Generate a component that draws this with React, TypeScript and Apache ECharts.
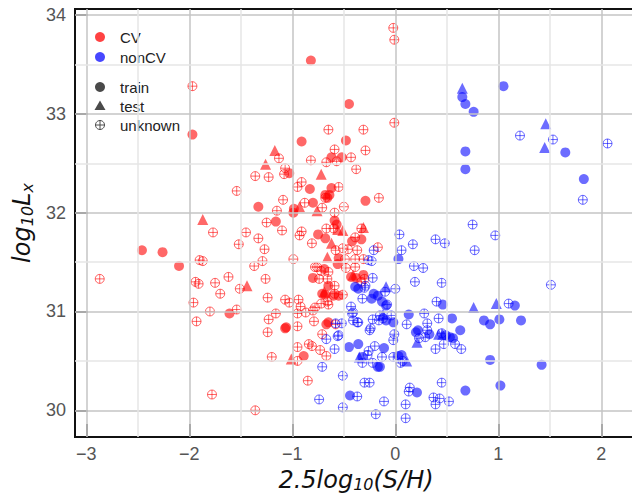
import React, { useEffect, useRef } from 'react';
import * as echarts from 'echarts';

// ---- data (x = 2.5 log10(S/H), y = log10 Lx) ----
const cvTrain: number[][] = [
  [-0.82, 33.54], [-1.97, 32.79], [-0.91, 32.72], [-0.45, 33.10], [-0.48, 32.73],
  [-0.62, 32.56], [-0.52, 32.56], [-0.83, 32.24], [-0.62, 32.25], [-0.68, 32.18],
  [-0.64, 32.18], [-0.66, 32.15], [-0.80, 32.10], [-0.29, 32.12], [-1.03, 32.40],
  [-0.985, 32.04], [-0.99, 32.00], [-1.33, 32.06], [-1.16, 31.91], [-0.75, 31.78],
  [-0.68, 31.74], [-0.59, 31.92], [-0.57, 31.88], [-0.42, 31.71], [-0.33, 31.73],
  [-2.46, 31.62], [-2.26, 31.60], [-2.10, 31.46], [-1.61, 30.98], [-1.07, 30.83],
  [-1.06, 30.84], [-0.89, 30.55], [-0.80, 31.34], [-0.55, 31.54], [-0.56, 31.48],
  [-0.69, 31.43], [-0.43, 31.35], [-0.38, 31.34], [-0.31, 31.37], [-0.65, 31.26],
  [-0.71, 31.18], [-0.68, 31.17], [-0.60, 31.16], [-0.55, 31.16], [-0.67, 30.87],
  [-0.65, 30.89],
];
const cvTest: number[][] = [
  [-1.17, 32.63], [-1.26, 32.49], [-1.87, 31.93], [-0.93, 32.06], [-0.76, 32.02],
  [-0.72, 32.39], [-0.51, 31.82], [-0.56, 31.83], [-0.31, 31.85], [-0.62, 31.69],
  [-1.44, 31.26], [-1.01, 30.52], [-0.66, 31.55], [-0.41, 31.37], [-0.69, 31.20],
];
const cvUnknown: number[][] = [
  [-0.02, 33.87], [-0.01, 33.75], [-0.01, 32.91], [-1.97, 33.28], [-0.65, 32.84],
  [-0.31, 32.84], [-0.59, 32.64], [-0.29, 32.63], [-0.43, 32.56], [-0.82, 32.53],
  [-0.67, 32.51], [-0.57, 32.52], [-0.38, 32.44], [-0.55, 32.26], [-0.16, 32.15],
  [-0.50, 32.06], [-0.71, 32.05], [-0.59, 32.00], [-0.67, 31.84], [-0.60, 31.84],
  [-0.33, 31.84], [-0.39, 31.75], [-0.17, 31.65], [-0.51, 31.64], [-0.46, 31.63],
  [-0.37, 31.62], [-1.13, 32.55], [-1.07, 32.45], [-1.08, 32.39], [-1.36, 32.37],
  [-1.23, 32.36], [-0.91, 32.31], [-0.95, 32.26], [-1.54, 32.22], [-1.09, 32.13],
  [-0.88, 32.10], [-1.15, 32.02], [-1.25, 31.90], [-1.10, 31.82], [-0.91, 31.81],
  [-0.93, 31.77], [-1.77, 31.80], [-1.45, 31.80], [-1.33, 31.74], [-1.52, 31.68],
  [-0.81, 31.69], [-1.27, 31.63], [-1.90, 31.52], [-1.87, 31.51], [-1.37, 31.46],
  [-1.29, 31.51], [-1.94, 31.30], [-1.91, 31.28], [-1.75, 31.29], [-1.62, 31.35],
  [-1.26, 31.33], [-1.70, 31.18], [-1.51, 31.23], [-1.24, 31.14], [-1.96, 31.09],
  [-1.07, 31.12], [-1.03, 31.09], [-1.80, 31.00], [-1.54, 31.02], [-1.16, 30.98],
  [-1.93, 30.90], [-1.23, 30.92], [-1.24, 30.79], [-2.87, 31.33], [-1.20, 30.54],
  [-1.78, 30.16], [-1.36, 30.00], [-0.99, 31.53], [-0.94, 31.12], [-0.92, 31.05],
  [-0.95, 30.98], [-0.95, 30.85], [-0.95, 30.64], [-0.95, 30.50], [-0.85, 30.30],
  [-0.80, 31.01], [-0.79, 30.90], [-0.84, 30.67], [-0.81, 30.65], [-0.78, 31.45],
  [-0.76, 31.45], [-0.78, 31.04], [-0.73, 30.61], [-0.58, 31.62], [-0.49, 31.53],
  [-0.39, 31.53], [-0.31, 31.53], [-0.48, 31.44], [-0.39, 31.45], [-0.72, 31.41],
  [-0.65, 31.40], [-0.74, 31.33], [-0.66, 31.33], [-0.30, 31.33], [-0.33, 31.30],
  [-0.59, 31.26], [-0.59, 31.18], [-0.51, 31.17], [-0.66, 31.10], [-0.72, 31.08],
  [-0.65, 31.07], [-0.87, 30.99], [-0.58, 30.87], [-0.71, 30.77], [-0.67, 30.55],
  [-0.68, 32.15],
];
const nonCvTrain: number[][] = [
  [1.05, 33.28], [0.65, 33.17], [0.68, 33.10], [0.76, 33.02], [0.68, 32.62],
  [0.68, 32.44], [1.65, 32.61], [1.83, 32.34], [0.03, 31.53], [-0.39, 31.25],
  [-0.36, 31.23], [-0.21, 31.18], [-0.17, 31.16], [-0.23, 31.13], [-0.13, 31.10],
  [-0.09, 31.06], [-0.09, 30.91], [-0.02, 30.89], [-0.45, 30.64], [-0.36, 30.67],
  [-0.32, 30.54], [-0.11, 30.63], [-0.17, 30.44], [-0.15, 30.44], [-0.44, 30.15],
  [0.03, 30.55], [0.06, 30.56], [0.13, 30.97], [0.20, 30.79], [0.22, 30.81],
  [0.33, 30.77], [0.46, 31.07], [0.55, 30.93], [0.49, 30.76], [0.53, 30.74],
  [0.56, 30.73], [0.63, 30.81], [0.86, 30.91], [0.92, 30.87], [1.01, 30.92],
  [1.22, 30.91], [1.16, 31.06], [0.92, 30.51], [1.42, 30.46], [1.02, 30.25],
  [0.68, 30.20], [0.21, 30.18],
];
const nonCvTest: number[][] = [
  [0.65, 33.26], [1.46, 32.90], [1.45, 32.66], [-0.09, 31.25], [-0.12, 30.97],
  [-0.35, 30.54], [0.11, 30.50], [0.21, 30.69], [0.42, 30.77], [0.46, 30.77],
  [0.76, 31.04], [0.98, 31.08],
];
const nonCvUnknown: number[][] = [
  [1.21, 32.78], [1.53, 32.74], [2.06, 32.70], [1.82, 32.13], [0.75, 31.88],
  [0.97, 31.77], [0.04, 31.78], [0.17, 31.68], [0.39, 31.73], [0.48, 31.69],
  [-0.21, 31.62], [0.06, 31.62], [0.77, 31.62], [-0.26, 31.52], [-0.23, 31.51],
  [-0.22, 31.34], [-0.29, 31.26], [-0.30, 31.24], [0.00, 31.23], [-0.32, 31.13],
  [-0.10, 31.20], [-0.43, 31.05], [-0.41, 30.99], [-0.58, 30.88], [-0.52, 30.88],
  [-0.37, 30.89], [-0.22, 30.92], [-0.16, 30.91], [-0.04, 30.96], [-0.55, 30.76],
  [-0.24, 30.83], [-0.67, 30.72], [-0.56, 30.75], [-0.25, 30.81], [-0.01, 30.77],
  [-0.02, 30.71], [-0.59, 30.62], [-0.26, 30.60], [-0.20, 30.65], [-0.27, 30.56],
  [-0.32, 30.48], [-0.22, 30.48], [-0.13, 30.54], [-0.02, 30.54], [-0.71, 30.44],
  [-0.51, 30.35], [-0.30, 30.28], [-0.25, 30.28], [-0.37, 30.14], [-0.74, 30.11],
  [-0.11, 30.09], [-0.51, 30.03], [-0.19, 29.96], [0.18, 31.46], [0.27, 31.44],
  [0.19, 31.30], [0.45, 31.29], [1.51, 31.27], [-0.08, 31.07], [-0.42, 30.98],
  [-0.41, 30.91], [-0.36, 30.89], [0.07, 30.50], [0.05, 30.48], [0.11, 30.87],
  [0.23, 30.73], [0.29, 30.74], [0.31, 30.81], [0.28, 30.98], [0.31, 30.88],
  [0.42, 30.93], [0.39, 30.62], [0.40, 31.10], [0.45, 30.78], [0.47, 30.67],
  [0.58, 30.67], [0.64, 30.62], [1.10, 31.08], [0.14, 30.23], [0.13, 30.19],
  [0.45, 30.28], [0.37, 30.13], [0.43, 30.12], [0.39, 30.06], [0.52, 30.09],
  [0.10, 30.06], [0.10, 29.92], [-0.15, 30.96], [-0.12, 30.93],
];

const xTicks = [-3, -2, -1, 0, 1, 2];
const yTicks = [30, 31, 32, 33, 34];
const xMinor = [-2.5, -1.5, -0.5, 0.5, 1.5];
const yMinor = [30.5, 31.5, 32.5, 33.5];
const colorLabels = ['CV', 'nonCV'];
const typeLabels = ['train', 'test', 'unknown'];

const RED = 'rgba(255,0,0,0.74)';
const BLUE = 'rgba(0,0,255,0.72)';
const LEG_GRAY = '#4a4a4a';
const OPLUS = 'path://M0,-10A10,10,0,1,1,0,10A10,10,0,1,1,0,-10ZM-10,0L10,0M0,-10L0,10';
const FONT = 'Liberation Sans';
const MATH = 'DejaVu Sans';

const fmt = (v: number) => (v < 0 ? '\u2212' + Math.abs(v) : String(v));

function pointSeries(name: string, data: number[][], kind: string, color: string) {
  const base: any = {
    type: 'scatter',
    name,
    data,
    z: 3,
    silent: true,
    emphasis: { disabled: true },
  };
  if (kind === 'train') {
    return { ...base, symbol: 'circle', symbolSize: 10, itemStyle: { color, borderWidth: 0 } };
  }
  if (kind === 'test') {
    return { ...base, symbol: 'triangle', symbolSize: 11, itemStyle: { color, borderWidth: 0 } };
  }
  return {
    ...base,
    symbol: OPLUS,
    symbolSize: 9,
    itemStyle: { color: 'rgba(0,0,0,0)', borderColor: color, borderWidth: 1 },
  };
}

function legendGraphics() {
  const g: any[] = [];
  const lx = 100;
  const tx = 120;
  const colorY = [37, 57];
  const colors = [RED, BLUE];
  colorLabels.forEach((t, i) => {
    g.push({ type: 'circle', shape: { cx: lx, cy: colorY[i], r: 5 }, style: { fill: colors[i] } });
    g.push({
      type: 'text', x: tx, y: colorY[i],
      style: { text: t, fontSize: 15, fontFamily: FONT, fill: '#222', verticalAlign: 'middle' },
    });
  });
  const typeY = [87, 106, 125];
  g.push({ type: 'circle', shape: { cx: lx, cy: typeY[0], r: 5 }, style: { fill: LEG_GRAY } });
  g.push({
    type: 'polygon',
    shape: { points: [[lx, typeY[1] - 5.5], [lx + 5.5, typeY[1] + 4], [lx - 5.5, typeY[1] + 4]] },
    style: { fill: LEG_GRAY },
  });
  g.push({ type: 'circle', shape: { cx: lx, cy: typeY[2], r: 4.5 }, style: { fill: 'none', stroke: LEG_GRAY, lineWidth: 1 } });
  g.push({ type: 'line', shape: { x1: lx - 4.5, y1: typeY[2], x2: lx + 4.5, y2: typeY[2] }, style: { stroke: LEG_GRAY, lineWidth: 1 } });
  g.push({ type: 'line', shape: { x1: lx, y1: typeY[2] - 4.5, x2: lx, y2: typeY[2] + 4.5 }, style: { stroke: LEG_GRAY, lineWidth: 1 } });
  typeLabels.forEach((t, i) => {
    g.push({
      type: 'text', x: tx, y: typeY[i],
      style: { text: t, fontSize: 15, fontFamily: FONT, fill: '#222', verticalAlign: 'middle' },
    });
  });
  return g;
}

const mathRich = {
  a: { fontSize: 24, fontStyle: 'italic', fontFamily: MATH, color: '#111', lineHeight: 26 },
  s: { fontSize: 16, fontStyle: 'italic', fontFamily: MATH, color: '#111', lineHeight: 16, verticalAlign: 'bottom' },
};

export default function App() {
  const ref = useRef<HTMLDivElement>(null);
  useEffect(() => {
    if (!ref.current) return;
    const chart = echarts.init(ref.current, undefined, { renderer: 'svg' });
    const gridLines = [
      ...xTicks.map((v) => ({ xAxis: v, lineStyle: { color: '#c4c4c4', width: 1.5, type: 'solid' } })),
      ...yTicks.map((v) => ({ yAxis: v, lineStyle: { color: '#c4c4c4', width: 1.5, type: 'solid' } })),
      ...xMinor.map((v) => ({ xAxis: v, lineStyle: { color: '#e6e6e6', width: 1.5, type: 'solid' } })),
      ...yMinor.map((v) => ({ yAxis: v, lineStyle: { color: '#e6e6e6', width: 1.5, type: 'solid' } })),
    ];
    chart.setOption({
      animation: false,
      grid: {
        left: 75, top: 9, right: -5, bottom: 57,
        outerBoundsMode: 'none', containLabel: false,
        show: true, borderColor: '#111', borderWidth: 2, backgroundColor: 'transparent',
      },
      xAxis: {
        type: 'value', min: -3.11, max: 2.346,
        axisLine: { show: true, onZero: false, lineStyle: { color: '#111', width: 2 } },
        axisTick: { show: true, inside: true, length: 13, customValues: xTicks, lineStyle: { color: '#222', width: 1.5 } },
        axisLabel: { customValues: xTicks, formatter: fmt, color: '#555', fontSize: 18, fontFamily: FONT, margin: 8 },
        splitLine: { show: false },
        name: '{a|2.5log}{s|10}{a|(S/H)}',
        nameLocation: 'middle', nameGap: 29,
        nameTextStyle: { rich: mathRich },
      },
      yAxis: {
        type: 'value', min: 29.73, max: 34.061,
        axisLine: { show: true, onZero: false, lineStyle: { color: '#111', width: 2 } },
        axisTick: { show: true, inside: true, length: 13, customValues: yTicks, lineStyle: { color: '#222', width: 1.5 } },
        axisLabel: { customValues: yTicks, formatter: fmt, color: '#555', fontSize: 18, fontFamily: FONT, margin: 9 },
        splitLine: { show: false },
        name: '{a|log}{s|10}{a|L}{s|x}',
        nameLocation: 'middle', nameGap: 38,
        nameTextStyle: { rich: mathRich },
      },
      graphic: legendGraphics(),
      series: [
        {
          type: 'scatter', data: [], z: 1, silent: true,
          markLine: { silent: true, symbol: ['none', 'none'], label: { show: false }, data: gridLines },
        },
        pointSeries('CV unknown', cvUnknown, 'unknown', RED),
        pointSeries('CV train', cvTrain, 'train', RED),
        pointSeries('CV test', cvTest, 'test', RED),
        pointSeries('nonCV unknown', nonCvUnknown, 'unknown', BLUE),
        pointSeries('nonCV train', nonCvTrain, 'train', BLUE),
        pointSeries('nonCV test', nonCvTest, 'test', BLUE),
      ],
    });
    return () => chart.dispose();
  }, []);
  return (
    <div
      ref={ref}
      style={{ position: 'fixed', left: 0, top: 0, width: 632, height: 494, background: '#fff' }}
    />
  );
}
